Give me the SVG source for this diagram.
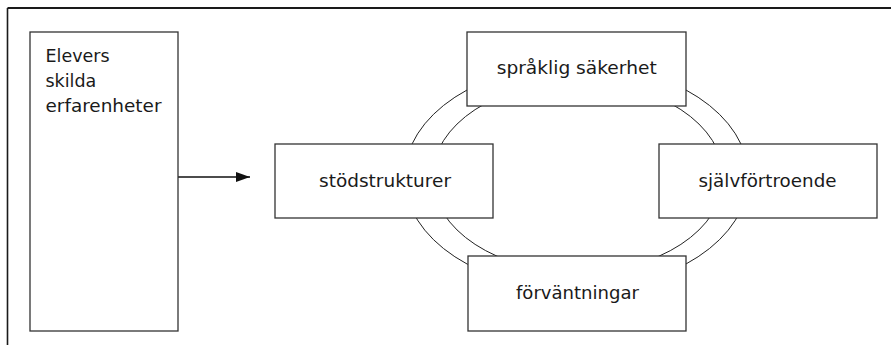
<svg xmlns="http://www.w3.org/2000/svg" width="891" height="347" viewBox="0 0 891 347">
  <style>
    .box { fill: #ffffff; stroke: #333333; stroke-width: 1.3; }
    .ring { fill: none; stroke: #222222; stroke-width: 1; }
    .frame { fill: none; stroke: #1a1a1a; }
    .label { font-family: "DejaVu Sans", "Liberation Sans", sans-serif; font-size: 17.5px; fill: #1a1a1a; }
    .mid { text-anchor: middle; }
    .link { stroke: #111111; stroke-width: 1.3; fill: none; }
  </style>
  <defs>
    <marker id="arrowhead" viewBox="0 0 14 10" refX="14" refY="5" markerWidth="14" markerHeight="10" markerUnits="userSpaceOnUse" orient="auto">
      <path d="M0,0 L14,5 L0,10 Z" fill="#111111"/>
    </marker>
  </defs>

  <rect width="891" height="347" fill="#ffffff"/>

  <!-- open frame: top rule and left rule -->
  <g id="frame">
    <line class="frame" x1="7.5" y1="8" x2="891" y2="8" stroke-width="2"/>
    <line class="frame" x1="7.5" y1="8" x2="7.5" y2="345" stroke-width="1.6"/>
  </g>

  <!-- double ring linking the four qualities -->
  <g id="ring">
    <ellipse class="ring" cx="576.5" cy="177" rx="172" ry="112.8"/>
    <ellipse class="ring" cx="578" cy="177" rx="145.5" ry="95.3"/>
  </g>

  <g id="connectors">
    <line class="link" x1="178" y1="177" x2="250" y2="177" marker-end="url(#arrowhead)"/>
  </g>

  <g id="node-erfarenheter">
    <rect class="box" x="30" y="32" width="148" height="299"/>
    <text class="label" x="45.5" y="61.7">Elevers</text>
    <text class="label" x="45.5" y="87">skilda</text>
    <text class="label" x="45.5" y="112" textLength="116" lengthAdjust="spacingAndGlyphs">erfarenheter</text>
  </g>

  <g id="node-sakerhet">
    <rect class="box" x="467" y="32" width="219" height="74"/>
    <text class="label mid" x="576.7" y="74" textLength="160" lengthAdjust="spacingAndGlyphs">språklig säkerhet</text>
  </g>

  <g id="node-stodstrukturer">
    <rect class="box" x="275" y="144" width="218" height="74"/>
    <text class="label mid" x="385" y="186.7" textLength="132" lengthAdjust="spacingAndGlyphs">stödstrukturer</text>
  </g>

  <g id="node-sjalvfortroende">
    <rect class="box" x="659" y="144" width="218" height="74"/>
    <text class="label mid" x="767.5" y="186.7" textLength="138" lengthAdjust="spacingAndGlyphs">självförtroende</text>
  </g>

  <g id="node-forvantningar">
    <rect class="box" x="468" y="256" width="218" height="75"/>
    <text class="label mid" x="577.5" y="299.3" textLength="123" lengthAdjust="spacingAndGlyphs">förväntningar</text>
  </g>
</svg>
